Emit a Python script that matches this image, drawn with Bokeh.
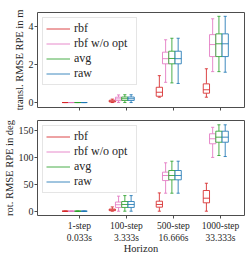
from bokeh.plotting import figure
from bokeh.layouts import column
from bokeh.models import Range1d, FixedTicker, Legend, LegendItem, ColumnDataSource
from bokeh.embed import file_html
from bokeh.resources import INLINE

horizons = ["1-step\n0.033s", "100-step\n3.333s", "500-step\n16.666s", "1000-step\n33.333s"]
methods = ["rbf", "rbf w/o opt", "avg", "raw"]
colors = ["#d62728", "#e377c2", "#2ca02c", "#1f77b4"]

# translational RMSE RPE [m]: (low whisker, q1, median, q3, high whisker) per horizon
trans_rbf_lo = [0.0, 0.0, 0.28, 0.28]
trans_rbf_q1 = [0.0, 0.03, 0.33, 0.49]
trans_rbf_med = [0.0, 0.07, 0.54, 0.67]
trans_rbf_q3 = [0.0, 0.12, 0.80, 0.98]
trans_rbf_hi = [0.0, 0.18, 1.41, 1.77]

trans_nopt_lo = [0.0, 0.0, 1.06, 1.62]
trans_nopt_q1 = [0.0, 0.10, 2.03, 2.41]
trans_nopt_med = [0.0, 0.19, 2.30, 3.04]
trans_nopt_q3 = [0.0, 0.28, 2.64, 3.56]
trans_nopt_hi = [0.0, 0.40, 3.29, 4.39]

trans_avg_lo = [0.0, 0.0, 1.03, 1.62]
trans_avg_q1 = [0.0, 0.11, 2.03, 2.41]
trans_avg_med = [0.0, 0.20, 2.31, 3.08]
trans_avg_q3 = [0.0, 0.29, 2.69, 3.60]
trans_avg_hi = [0.0, 0.41, 3.37, 4.52]

trans_raw_lo = [0.0, 0.0, 1.00, 1.59]
trans_raw_q1 = [0.0, 0.11, 2.03, 2.41]
trans_raw_med = [0.0, 0.20, 2.30, 3.08]
trans_raw_q3 = [0.0, 0.29, 2.69, 3.60]
trans_raw_hi = [0.0, 0.41, 3.37, 4.52]

# rotational RMSE RPE [deg]
rot_rbf_lo = [0.0, 0.0, 0.0, 0.0]
rot_rbf_q1 = [0.0, 1.0, 7.5, 15.6]
rot_rbf_med = [0.0, 2.5, 12.5, 24.2]
rot_rbf_q3 = [0.0, 4.0, 18.6, 38.5]
rot_rbf_hi = [0.0, 8.0, 34.0, 52.0]

rot_nopt_lo = [0.0, 0.0, 33.5, 100.0]
rot_nopt_q1 = [0.0, 7.0, 57.0, 125.4]
rot_nopt_med = [0.0, 12.0, 66.4, 134.7]
rot_nopt_q3 = [0.0, 17.0, 72.6, 144.0]
rot_nopt_hi = [0.0, 28.0, 90.0, 156.0]

rot_avg_lo = [0.0, 0.0, 33.5, 103.6]
rot_avg_q1 = [0.0, 7.0, 58.4, 128.3]
rot_avg_med = [0.0, 12.5, 66.4, 137.7]
rot_avg_q3 = [0.0, 18.0, 75.7, 148.8]
rot_avg_hi = [0.0, 29.0, 93.0, 160.7]

rot_raw_lo = [0.0, 0.0, 33.5, 101.7]
rot_raw_q1 = [0.0, 7.0, 58.4, 128.3]
rot_raw_med = [0.0, 12.5, 66.4, 137.7]
rot_raw_q3 = [0.0, 18.0, 75.7, 148.8]
rot_raw_hi = [0.0, 29.0, 93.0, 160.7]

trans_stats = [
    (trans_rbf_lo, trans_rbf_q1, trans_rbf_med, trans_rbf_q3, trans_rbf_hi),
    (trans_nopt_lo, trans_nopt_q1, trans_nopt_med, trans_nopt_q3, trans_nopt_hi),
    (trans_avg_lo, trans_avg_q1, trans_avg_med, trans_avg_q3, trans_avg_hi),
    (trans_raw_lo, trans_raw_q1, trans_raw_med, trans_raw_q3, trans_raw_hi),
]
rot_stats = [
    (rot_rbf_lo, rot_rbf_q1, rot_rbf_med, rot_rbf_q3, rot_rbf_hi),
    (rot_nopt_lo, rot_nopt_q1, rot_nopt_med, rot_nopt_q3, rot_nopt_hi),
    (rot_avg_lo, rot_avg_q1, rot_avg_med, rot_avg_q3, rot_avg_hi),
    (rot_raw_lo, rot_raw_q1, rot_raw_med, rot_raw_q3, rot_raw_hi),
]

FONT = "'Liberation Serif'"
BOX_W = 0.133
FRAME_COLOR = "#4d4d4d"
TEXT_COLOR = "#262626"


def make_plot(stats, y_range, yticks, ylabel, show_x_labels, height,
              border_top, border_bottom):
    p = figure(width=249, height=height, output_backend="svg", toolbar_location=None,
               x_range=Range1d(-0.89, 3.51), y_range=y_range,
               min_border_left=36, min_border_right=5,
               min_border_top=border_top, min_border_bottom=border_bottom)
    p.grid.visible = False
    p.outline_line_color = FRAME_COLOR
    p.outline_line_width = 1

    items = []
    xs_base = list(range(len(horizons)))
    for i, (name, col, st) in enumerate(zip(methods, colors, stats)):
        lo, q1, med, q3, hi = st
        off = -0.3 + i * 0.1333
        xc = [x + off for x in xs_base]
        src = ColumnDataSource(dict(
            x=xc, left=[x - BOX_W / 2 for x in xc], right=[x + BOX_W / 2 for x in xc],
            capl=[x - BOX_W / 4 for x in xc], capr=[x + BOX_W / 4 for x in xc],
            lo=lo, q1=q1, med=med, q3=q3, hi=hi))
        kw = dict(source=src, line_color=col, line_alpha=0.85, line_width=1)
        w = p.segment(x0="x", y0="lo", x1="x", y1="q1", **kw)
        p.segment(x0="x", y0="q3", x1="x", y1="hi", **kw)
        p.segment(x0="capl", y0="lo", x1="capr", y1="lo", **kw)
        p.segment(x0="capl", y0="hi", x1="capr", y1="hi", **kw)
        p.quad(left="left", right="right", bottom="q1", top="q3", fill_color="white", **kw)
        p.segment(x0="left", y0="med", x1="right", y1="med", **kw)
        items.append(LegendItem(label=name, renderers=[w]))

    legend = Legend(items=items, location="top_left", margin=5, padding=3, spacing=0,
                    glyph_width=24, glyph_height=13, label_height=13, label_width=59,
                    label_standoff=4,
                    label_text_font=FONT, label_text_font_size="12px",
                    label_text_color=TEXT_COLOR,
                    border_line_color="#cccccc", border_line_width=1,
                    background_fill_alpha=0.8)
    p.add_layout(legend, "center")

    p.xaxis.ticker = FixedTicker(ticks=list(range(len(horizons))))
    p.yaxis.ticker = FixedTicker(ticks=yticks)
    for ax in (p.xaxis, p.yaxis):
        ax.axis_line_color = None
        ax.major_tick_line_color = FRAME_COLOR
        ax.major_tick_in = 0
        ax.major_tick_out = 3
        ax.minor_tick_line_color = None
        ax.major_label_text_font = FONT
        ax.major_label_text_font_size = "9.5px"
        ax.major_label_text_color = TEXT_COLOR
        ax.axis_label_text_font = FONT
        ax.axis_label_text_font_size = "10.5px"
        ax.axis_label_text_font_style = "normal"
        ax.axis_label_text_color = TEXT_COLOR
        ax.major_label_standoff = 1
        ax.axis_label_standoff = 1
    p.yaxis.major_label_text_font_size = "10px"
    p.yaxis.axis_label = ylabel

    if show_x_labels:
        p.xaxis.major_label_overrides = {i: h for i, h in enumerate(horizons)}
        p.xaxis.axis_label = "Horizon"
        p.xaxis.major_label_standoff = 2
        p.xaxis.axis_label_standoff = -3
    else:
        p.xaxis.major_label_overrides = {i: "" for i in range(len(horizons))}
        p.xaxis.major_label_text_color = None
        p.xaxis.major_label_text_font_size = "1px"
        p.xaxis.major_label_standoff = 0
    return p


p1 = make_plot(trans_stats, Range1d(-0.26, 4.72), [0, 2, 4], "transl. RMSE RPE in m",
               False, 113, 12, 6)
p2 = make_plot(rot_stats, Range1d(-8, 168.7), [0, 50, 100, 150], "rot. RMSE RPE in deg",
               True, 144, 7, 42)

layout = column(p1, p2, spacing=0)
open("out.html", "w").write(file_html(layout, INLINE))
